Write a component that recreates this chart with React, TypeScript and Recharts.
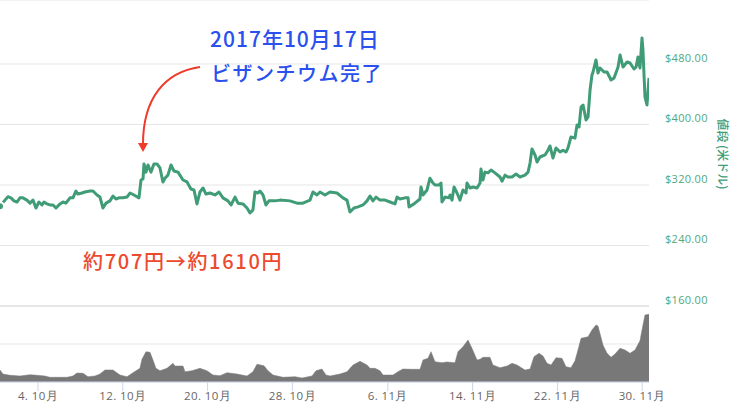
import React from "react";
import { ComposedChart, Line, Area, XAxis, YAxis, CartesianGrid } from "recharts";

// days since 1 Oct 2017
const priceDays = [-0.58,-0.11,0.17,0.45,0.74,1.02,1.30,1.58,1.96,2.25,2.53,2.81,3.09,3.38,3.57,3.85,4.13,4.42,4.70,5.08,5.36,5.64,6.02,6.30,6.58,6.77,7.15,7.43,7.91,8.19,8.57,8.85,9.13,9.42,9.79,10.08,10.36,10.64,11.02,11.40,11.68,12.06,12.53,12.72,12.91,13.00,13.19,13.38,13.66,13.94,14.23,14.51,14.79,14.98,15.26,15.55,15.83,16.21,16.68,17.06,17.43,17.72,18.00,18.28,18.57,18.85,19.23,19.70,20.08,20.45,20.92,21.21,21.59,21.87,22.34,22.72,23.00,23.28,23.47,23.76,23.94,24.23,24.51,24.79,25.36,25.83,26.77,27.43,28.00,28.66,28.94,29.32,29.60,30.08,30.55,31.21,31.77,32.15,32.43,32.81,33.19,33.66,34.04,34.32,34.60,34.89,35.26,35.74,36.21,36.68,36.87,37.15,37.62,37.91,38.00,38.47,39.04,39.13,39.32,39.70,39.98,40.26,40.45,40.83,41.02,41.11,41.40,41.77,41.87,42.06,42.25,42.53,42.81,43.09,43.38,43.47,43.75,44.04,44.42,44.70,44.79,44.98,45.17,45.45,45.74,46.11,46.58,46.77,47.06,47.34,47.72,48.09,48.47,48.94,49.23,49.42,49.60,49.89,50.08,50.36,50.83,51.11,51.30,51.58,51.87,52.25,52.53,52.81,53.00,53.28,53.66,53.85,54.04,54.23,54.42,54.70,54.89,55.08,55.26,55.36,55.64,55.83,56.02,56.40,56.68,57.06,57.34,57.62,57.72,57.91,58.19,58.57,58.85,59.23,59.42,59.60,59.79,59.98,60.07,60.26,60.45,60.64];
const priceValues = [292,300,304.5,303,299,297.5,303,303,300,296,300,289.6,297.5,293.6,297.5,295,293.6,293.6,289.6,295,297.5,296,303,303,312,308,309.4,310.7,312,312,306.8,304,289.6,296,299,305.5,301.5,303,303,304,309.4,306.8,303,326.6,328,347.8,337,346.4,337,347.8,347.8,342.5,324,329,333,346.4,338.5,337,326.6,324,314.7,313.4,295,310.7,316,308,309.4,306.8,310.7,303,299,293.6,304,296,295,289.6,283,287,310.7,309.4,312,306.8,293.6,299,299,300,299,296,296,300,310.7,306.8,310.7,306.8,310.7,309.4,303,300,284.3,289.6,291,293.6,299,305.5,299,304,300,300,297.5,295,304,301.5,303,303,291,295,301.5,317.4,306.8,313.4,329,322.6,320,320,322.6,297.5,304,303,306.8,300,317.4,309.4,300,313.4,309.4,322.6,316,317.4,316,322.6,341,326.6,337,336,339.8,336,330.6,325,333,330.6,330.6,334.5,330.6,333,337,349,367.6,359.7,350.4,357,359.7,366,371.6,355.7,369,363.6,366,363.6,369,383.5,382,399.3,396.7,423,425.8,406,410,445.6,465.5,469.4,485.3,468,474.7,469.4,469.4,458.8,461.5,472,476,491.9,476,482.6,481.3,473.4,476,489.3,474.7,514.4,498.5,436.4,425.8,461.5,449.6];

const volumeDays = [-0.58,-0.30,0.36,1.30,2.25,2.91,3.66,4.13,5.74,6.30,6.68,7.25,7.72,8.38,8.85,9.32,10.08,10.74,11.40,11.96,12.62,12.81,13.19,13.57,13.85,14.13,14.51,15.17,15.74,15.92,16.68,16.87,17.53,18.28,18.94,19.51,20.17,20.83,21.77,22.72,23.28,23.66,24.32,24.70,25.17,26.11,27.25,27.91,28.85,29.23,29.79,30.17,30.55,31.49,32.15,32.72,33.38,34.04,34.32,34.79,35.26,35.55,36.49,36.96,37.43,38.28,39.04,39.32,39.79,40.08,40.45,41.11,41.58,42.34,42.62,43.09,43.57,43.94,44.42,44.70,44.98,45.64,45.92,46.58,47.25,47.72,48.19,48.94,49.42,49.79,50.26,50.64,51.02,51.40,51.87,52.43,52.81,53.28,53.66,53.94,54.23,54.89,55.26,55.64,55.83,56.30,56.68,57.06,57.43,57.91,58.38,58.85,59.32,59.79,59.98,60.26,60.64];
const volumeValues = [0.316,0.21,0.176,0.158,0.192,0.176,0.158,0.124,0.124,0.158,0.237,0.229,0.139,0.158,0.21,0.316,0.316,0.184,0.139,0.245,0.36,0.597,0.797,0.781,0.579,0.36,0.297,0.36,0.492,0.421,0.421,0.271,0.297,0.36,0.297,0.184,0.166,0.245,0.21,0.158,0.271,0.466,0.429,0.297,0.184,0.124,0.139,0.105,0.158,0.297,0.342,0.184,0.158,0.21,0.271,0.447,0.544,0.447,0.36,0.36,0.297,0.184,0.184,0.271,0.342,0.334,0.334,0.579,0.623,0.797,0.534,0.508,0.526,0.508,0.797,0.929,1.105,0.886,0.579,0.597,0.65,0.65,0.447,0.376,0.421,0.492,0.447,0.316,0.342,0.665,0.755,0.684,0.492,0.447,0.639,0.623,0.402,0.376,0.56,0.842,1.149,1.191,1.368,1.5,1.473,0.973,0.755,0.65,0.736,0.886,0.842,0.755,0.842,1.086,1.368,1.762,1.78];

const xTicks = [3, 11, 19, 27, 36, 44, 52, 60];
const xLabels = ["4. 10月", "12. 10月", "20. 10月", "28. 10月", "6. 11月", "14. 11月", "22. 11月", "30. 11月"];
const priceTicks = [160, 240, 320, 400, 480];
const volumeTicks = [0, 1, 2];
const priceAxisTitle = "値段 (米ドル)";
const noteDate = "2017年10月17日";
const noteEvent = "ビザンチウム完了";
const noteChange = "約707円→約1610円";

const priceRows = priceDays.map((day, i) => ({ day, price: priceValues[i] }));
const volumeRows = volumeDays.map((day, i) => ({ day, volume: volumeValues[i] }));
const domainX: [number, number] = [-0.58, 60.64];

const GREEN = "#3f9c76";
const LABEL_FONT = "'Open Sans', sans-serif";
const NOTE_FONT = "'Noto Sans CJK JP', sans-serif";

function PriceTick(props: any) {
  const { y, payload } = props;
  return (
    <text x={665} y={y - 2} fill="#4fa880" fontSize={11} fontFamily={LABEL_FONT} letterSpacing={0.3}>
      {"$" + payload.value.toFixed(2)}
    </text>
  );
}

export default function App() {
  return (
    <div style={{ position: "absolute", left: 0, top: 0, width: 745, height: 417, background: "#fff" }}>
      <div style={{ position: "absolute", left: 0, top: 0 }}>
        <ComposedChart width={745} height={307} data={priceRows} margin={{ top: 0, right: 0, bottom: 1, left: 0 }}>
          <CartesianGrid horizontal vertical={false} stroke="#e6e6e6" strokeWidth={1} />
          <XAxis dataKey="day" type="number" domain={domainX} hide allowDataOverflow />
          <YAxis
            orientation="right"
            width={96}
            domain={[160, 564.6]}
            ticks={priceTicks}
            axisLine={false}
            tickLine={false}
            interval={0}
            tick={<PriceTick />}
          />
          <Line
            dataKey="price"
            type="linear"
            stroke={GREEN}
            strokeWidth={3}
            dot={false}
            strokeLinejoin="round"
            isAnimationActive={false}
          />
        </ComposedChart>
      </div>
      <div style={{ position: "absolute", left: 0, top: 306 }}>
        <ComposedChart width={745} height={111} data={volumeRows} margin={{ top: 0, right: 96, bottom: 0, left: 0 }}>
          <CartesianGrid horizontal vertical={false} stroke="#e6e6e6" strokeWidth={1} />
          <XAxis
            dataKey="day"
            type="number"
            domain={domainX}
            allowDataOverflow
            ticks={xTicks}
            interval={0}
            height={35}
            tickSize={9}
            tickMargin={1}
            axisLine={{ stroke: "#ccd6eb" }}
            tickLine={{ stroke: "#ccd6eb" }}
            tick={{ fill: "#666666", fontSize: 11.5, fontFamily: LABEL_FONT, letterSpacing: 0.4 }}
            tickFormatter={(v: number) => xLabels[xTicks.indexOf(v)]}
          />
          <YAxis hide width={0} domain={[0, 2]} ticks={volumeTicks} />
          <Area
            dataKey="volume"
            type="linear"
            stroke="#787878"
            strokeWidth={0.5}
            fill="#787878"
            fillOpacity={1}
            dot={false}
            isAnimationActive={false}
          />
        </ComposedChart>
      </div>
      <svg width={745} height={417} style={{ position: "absolute", left: 0, top: 0, pointerEvents: "none" }}>
        <line x1={0} x2={649} y1={306} y2={306} stroke="#e6e6e6" strokeWidth={2} />
        <text x={210} y={47} fill="#2a50ee" fontSize={21} fontFamily={NOTE_FONT} fontWeight={500} letterSpacing={1}>
          {noteDate}
        </text>
        <text x={211} y={81} fill="#2a50ee" fontSize={20} fontFamily={NOTE_FONT} fontWeight={500} letterSpacing={1.5}>
          {noteEvent}
        </text>
        <text x={83} y={269} fill="#ec4a2e" fontSize={20} fontFamily={NOTE_FONT} fontWeight={500} letterSpacing={1.7}>
          {noteChange}
        </text>
        <path d="M200 67 C165 72 143 98 143 144" fill="none" stroke="#ee3b2b" strokeWidth={2} />
        <polygon points="138,143 148,143 143,152" fill="#ee3b2b" />
        <text
          transform="translate(718 154) rotate(90)"
          textAnchor="middle"
          fill="#3f9c76"
          fontSize={12}
          fontWeight={500}
          fontFamily={NOTE_FONT}
        >
          {priceAxisTitle}
        </text>
      </svg>
    </div>
  );
}
